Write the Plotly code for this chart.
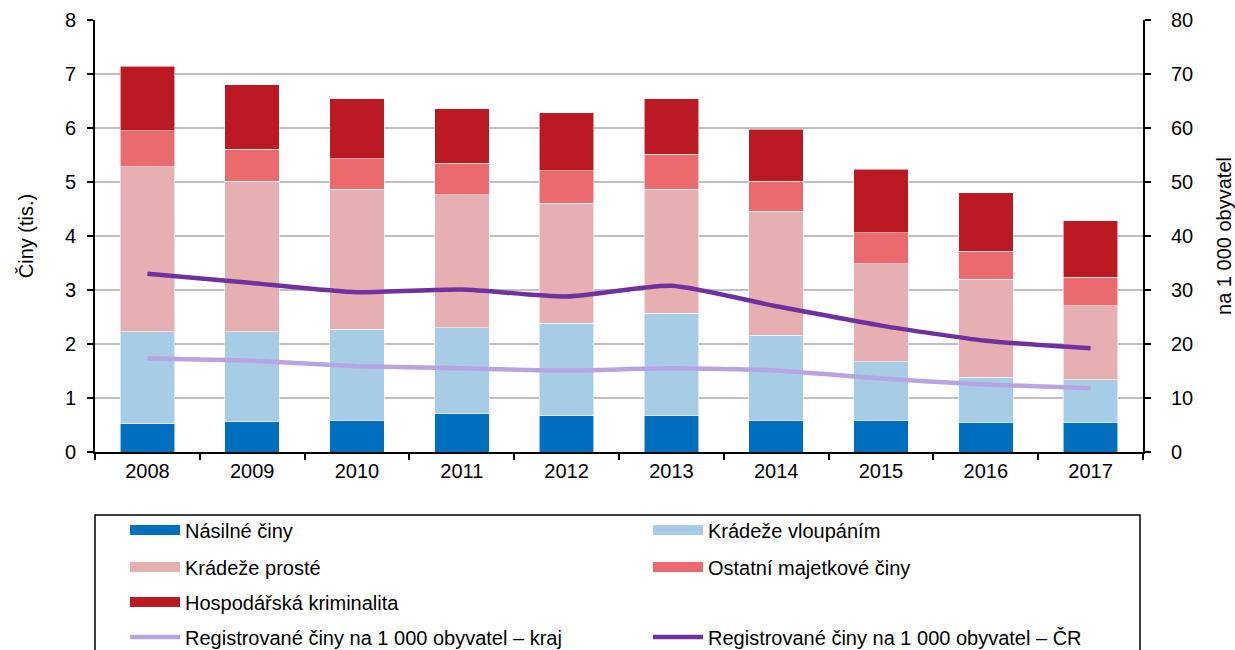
import plotly.graph_objects as go

# --- data -------------------------------------------------------------
years = ["2008", "2009", "2010", "2011", "2012", "2013", "2014", "2015", "2016", "2017"]

# registered offences by type (thousands)
nasilne = [0.52, 0.56, 0.59, 0.71, 0.67, 0.67, 0.59, 0.59, 0.55, 0.55]
vloupanim = [1.71, 1.67, 1.68, 1.59, 1.71, 1.90, 1.57, 1.08, 0.83, 0.79]
proste = [3.05, 2.78, 2.60, 2.46, 2.23, 2.30, 2.30, 1.82, 1.82, 1.37]
ostatni = [0.67, 0.60, 0.56, 0.59, 0.60, 0.64, 0.55, 0.57, 0.52, 0.53]
hospodarska = [1.19, 1.19, 1.11, 1.01, 1.07, 1.03, 0.97, 1.18, 1.08, 1.04]

# offences per 1 000 inhabitants
na1000_kraj = [17.3, 16.9, 15.9, 15.5, 15.1, 15.5, 15.1, 13.6, 12.5, 11.8]
na1000_cr = [33.0, 31.3, 29.6, 30.1, 28.8, 30.8, 27.0, 23.4, 20.6, 19.2]

left_ticks = [0, 1, 2, 3, 4, 5, 6, 7, 8]
right_ticks = [0, 10, 20, 30, 40, 50, 60, 70, 80]

# --- styling ----------------------------------------------------------
FONT = "Liberation Sans, Arial, sans-serif"
FS = 20
W, H = 1235, 650
bar_series = [
    ("Násilné činy", nasilne, "#0070BE", "legend"),
    ("Krádeže vloupáním", vloupanim, "#A6CCE6", "legend"),
    ("Krádeže prosté", proste, "#E6AFB2", "legend2"),
    ("Ostatní majetkové činy", ostatni, "#EA6A6E", "legend2"),
    ("Hospodářská kriminalita", hospodarska, "#BB1A22", "legend3"),
]
line_series = [
    ("Registrované činy na 1 000 obyvatel – kraj", na1000_kraj, "#B9A4E3", "legend4"),
    ("Registrované činy na 1 000 obyvatel – ČR", na1000_cr, "#7030A0", "legend4"),
]

fig = go.Figure()

for name, vals, color, lg in bar_series:
    fig.add_trace(go.Bar(
        x=years, y=vals, name=name, showlegend=False,
        marker=dict(color=color, line=dict(color="rgba(255,255,255,0.7)", width=0.8)),
    ))
    # wide rectangular legend key
    fig.add_trace(go.Scatter(
        x=[None], y=[None], mode="lines", name=name, legend=lg,
        line=dict(color=color, width=10),
    ))

for name, vals, color, lg in line_series:
    fig.add_trace(go.Scatter(
        x=years, y=vals, name=name, yaxis="y2", mode="lines", legend=lg,
        line=dict(color=color, width=4.5, shape="spline", smoothing=0.6),
    ))

plot_h = H - 20 - 198
plot_w = W - 95 - 92


def py(px):
    return (452 - px) / plot_h


legend_common = dict(
    orientation="h", xanchor="left", yanchor="middle", x=30 / plot_w,
    traceorder="normal",
    bgcolor="rgba(0,0,0,0)", borderwidth=0,
    font=dict(family=FONT, size=FS, color="#000"),
    entrywidth=458, entrywidthmode="pixels", itemwidth=50,
    itemclick=False, itemdoubleclick=False,
)

fig.update_layout(
    width=W, height=H,
    margin=dict(l=95, r=92, t=20, b=198, autoexpand=False),
    paper_bgcolor="white", plot_bgcolor="white",
    font=dict(family=FONT, size=FS, color="#000"),
    barmode="stack", bargap=0.48,
    xaxis=dict(
        type="category", showline=True, linecolor="#000", linewidth=2,
        ticks="outside", ticklen=6, tickcolor="#000", tickwidth=1.5,
        tickson="boundaries", showgrid=False,
        tickfont=dict(size=FS),
    ),
    yaxis=dict(
        range=[0, 8], tickvals=left_ticks, showline=True, linecolor="#000",
        linewidth=2, ticks="outside", ticklen=6, tickcolor="#000", tickwidth=1.5,
        ticklabelstandoff=7,
        showgrid=True, gridcolor="#C0C0C0", gridwidth=2, zeroline=False,
        title=dict(text="Činy (tis.)", font=dict(size=FS), standoff=26),
    ),
    yaxis2=dict(
        range=[0, 80], tickvals=right_ticks, overlaying="y", side="right",
        showline=True, linecolor="#000", linewidth=2, ticks="outside",
        ticklen=6, tickcolor="#000", tickwidth=1.5, ticklabelstandoff=16,
        showgrid=False, zeroline=False,
        title=dict(text="na 1 000 obyvatel", font=dict(size=FS), standoff=28),
    ),
    legend=dict(legend_common, y=py(530)),
    legend2=dict(legend_common, y=py(567)),
    legend3=dict(legend_common, y=py(602)),
    legend4=dict(legend_common, y=py(637)),
    shapes=[dict(
        type="rect", xref="paper", yref="paper",
        x0=0, x1=(1140 - 95) / plot_w, y0=py(515), y1=py(700),
        line=dict(color="#000", width=1.5), fillcolor="rgba(0,0,0,0)",
    )],
)

fig.write_html("out.html")
